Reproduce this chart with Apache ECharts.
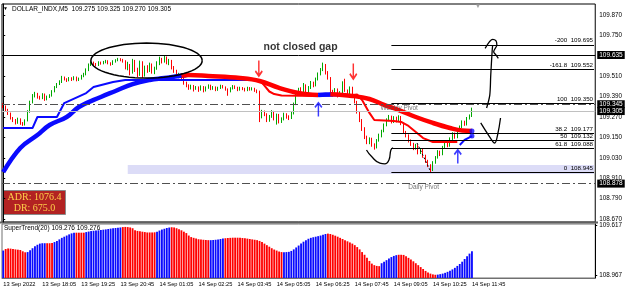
<!DOCTYPE html>
<html>
<head>
<meta charset="utf-8">
<title>DOLLAR_INDX,M5</title>
<script src="https://cdn.jsdelivr.net/npm/echarts@6/dist/echarts.min.js"></script>
<style>
  html, body { margin: 0; padding: 0; background: #fff; }
  #main { width: 625px; height: 291px; }
</style>
</head>
<body>
<div id="main"></div>
<script>
// axis labels
const timeLabels = ['13 Sep 2022', '13 Sep 18:05', '13 Sep 19:25', '13 Sep 20:45', '14 Sep 01:05', '14 Sep 02:25',
  '14 Sep 03:45', '14 Sep 05:05', '14 Sep 06:25', '14 Sep 07:45', '14 Sep 09:05', '14 Sep 10:25', '14 Sep 11:45'];
const labelStep = 16;
const slotCount = 243;
const yTicksMain = [109.870, 109.750, 109.510, 109.390, 109.270, 109.150, 109.030, 108.910, 108.790, 108.670];
const yTicksSub = [108.967, 109.617];

// M5 candles (open = previous close)
const firstOpen = 109.345;
const closes = [
  109.330, 109.312, 109.290, 109.262, 109.250, 109.236, 109.255, 109.232, 109.226, 109.248,
  109.300, 109.355, 109.392, 109.405, 109.385, 109.380, 109.402, 109.372, 109.388, 109.395,
  109.420, 109.445, 109.462, 109.475, 109.500, 109.492, 109.484, 109.498, 109.490, 109.502,
  109.488, 109.495, 109.510, 109.520, 109.545, 109.575, 109.590, 109.580, 109.575, 109.590,
  109.585, 109.592, 109.598, 109.586, 109.580, 109.596, 109.602, 109.610, 109.606, 109.598,
  109.560, 109.575, 109.530, 109.600, 109.545, 109.520, 109.590, 109.515, 109.560, 109.540,
  109.575, 109.532, 109.555, 109.580, 109.610, 109.595, 109.620, 109.590, 109.600, 109.560,
  109.540, 109.510, 109.520, 109.505, 109.470, 109.455, 109.440, 109.452, 109.438, 109.445,
  109.430, 109.448, 109.425, 109.442, 109.455, 109.436, 109.445, 109.430, 109.440, 109.452,
  109.445, 109.432, 109.420, 109.438, 109.450, 109.442, 109.430, 109.440, 109.436, 109.428,
  109.440, 109.432, 109.438, 109.425, 109.420, 109.270, 109.300, 109.285, 109.250, 109.272,
  109.300, 109.262, 109.280, 109.240, 109.255, 109.285, 109.270, 109.262, 109.290, 109.345,
  109.400, 109.430, 109.420, 109.455, 109.410, 109.440, 109.470, 109.455, 109.490, 109.520,
  109.545, 109.575, 109.530, 109.500, 109.420, 109.400, 109.430, 109.395, 109.410, 109.440,
  109.425, 109.405, 109.440, 109.395, 109.360, 109.300, 109.250, 109.200, 109.150, 109.120,
  109.140, 109.105, 109.090, 109.130, 109.160, 109.185, 109.220, 109.250, 109.270, 109.240,
  109.265, 109.245, 109.270, 109.230, 109.180, 109.160, 109.130, 109.110, 109.085, 109.100,
  109.060, 109.075, 109.040, 109.010, 108.985, 108.960, 109.000, 109.030, 109.065, 109.050,
  109.090, 109.120, 109.100, 109.140, 109.170, 109.150, 109.190, 109.210, 109.240, 109.225,
  109.260, 109.275, 109.305
];
const highs = [
  109.352, 109.338, 109.318, 109.296, 109.270, 109.258, 109.266, 109.262, 109.240, 109.256,
  109.310, 109.366, 109.405, 109.418, 109.412, 109.395, 109.410, 109.408, 109.396, 109.404,
  109.428, 109.452, 109.470, 109.486, 109.512, 109.508, 109.498, 109.505, 109.504, 109.510,
  109.508, 109.502, 109.518, 109.530, 109.556, 109.585, 109.598, 109.596, 109.588, 109.598,
  109.596, 109.600, 109.606, 109.604, 109.592, 109.604, 109.610, 109.618, 109.616, 109.612,
  109.604, 109.595, 109.582, 109.612, 109.606, 109.560, 109.602, 109.598, 109.572, 109.575,
  109.590, 109.585, 109.566, 109.598, 109.625, 109.618, 109.632, 109.626, 109.612, 109.606,
  109.570, 109.548, 109.530, 109.528, 109.510, 109.478, 109.462, 109.460, 109.458, 109.452,
  109.450, 109.456, 109.452, 109.450, 109.462, 109.460, 109.452, 109.450, 109.448, 109.460,
  109.458, 109.450, 109.438, 109.445, 109.458, 109.456, 109.448, 109.448, 109.446, 109.442,
  109.448, 109.446, 109.445, 109.442, 109.432, 109.425, 109.312, 109.308, 109.292, 109.282,
  109.310, 109.306, 109.290, 109.288, 109.268, 109.295, 109.292, 109.280, 109.300, 109.355,
  109.410, 109.442, 109.445, 109.470, 109.462, 109.452, 109.482, 109.478, 109.502, 109.532,
  109.558, 109.590, 109.582, 109.540, 109.505, 109.430, 109.440, 109.438, 109.422, 109.480,
  109.495, 109.432, 109.450, 109.448, 109.400, 109.365, 109.305, 109.258, 109.210, 109.160,
  109.150, 109.148, 109.115, 109.140, 109.172, 109.195, 109.232, 109.262, 109.282, 109.278,
  109.275, 109.272, 109.280, 109.276, 109.236, 109.188, 109.168, 109.138, 109.118, 109.112,
  109.108, 109.085, 109.082, 109.048, 109.018, 108.992, 109.010, 109.040, 109.075, 109.072,
  109.100, 109.130, 109.128, 109.150, 109.180, 109.178, 109.200, 109.220, 109.250, 109.248,
  109.270, 109.285, 109.325
];
const lows = [
  109.322, 109.305, 109.282, 109.255, 109.240, 109.226, 109.230, 109.224, 109.218, 109.220,
  109.244, 109.295, 109.350, 109.385, 109.378, 109.372, 109.375, 109.365, 109.368, 109.382,
  109.390, 109.415, 109.440, 109.458, 109.470, 109.485, 109.476, 109.480, 109.482, 109.486,
  109.480, 109.482, 109.490, 109.504, 109.515, 109.540, 109.570, 109.572, 109.568, 109.570,
  109.578, 109.580, 109.586, 109.580, 109.572, 109.576, 109.590, 109.598, 109.598, 109.590,
  109.550, 109.545, 109.515, 109.525, 109.535, 109.505, 109.512, 109.500, 109.508, 109.530,
  109.535, 109.525, 109.522, 109.548, 109.575, 109.585, 109.590, 109.580, 109.575, 109.550,
  109.530, 109.500, 109.498, 109.492, 109.460, 109.445, 109.430, 109.432, 109.420, 109.430,
  109.418, 109.425, 109.415, 109.420, 109.436, 109.428, 109.430, 109.422, 109.424, 109.435,
  109.438, 109.425, 109.395, 109.415, 109.432, 109.435, 109.422, 109.425, 109.428, 109.420,
  109.422, 109.425, 109.426, 109.418, 109.410, 109.240, 109.262, 109.275, 109.240, 109.242,
  109.265, 109.250, 109.225, 109.232, 109.235, 109.250, 109.260, 109.252, 109.258, 109.285,
  109.340, 109.395, 109.412, 109.415, 109.402, 109.405, 109.435, 109.445, 109.450, 109.485,
  109.515, 109.540, 109.520, 109.490, 109.410, 109.390, 109.395, 109.385, 109.388, 109.405,
  109.418, 109.395, 109.400, 109.385, 109.350, 109.290, 109.240, 109.188, 109.140, 109.110,
  109.110, 109.095, 109.078, 109.085, 109.125, 109.150, 109.180, 109.215, 109.245, 109.232,
  109.235, 109.238, 109.240, 109.222, 109.170, 109.150, 109.120, 109.100, 109.075, 109.078,
  109.050, 109.052, 109.030, 109.000, 108.975, 108.945, 108.952, 108.995, 109.025, 109.040,
  109.045, 109.085, 109.092, 109.095, 109.135, 109.142, 109.145, 109.185, 109.205, 109.218,
  109.220, 109.255, 109.270
];

// SuperTrend(20) histogram
const stValues = [
  109.285, 109.305, 109.312, 109.310, 109.305, 109.300, 109.296, 109.292, 109.275, 109.262,
  109.265, 109.290, 109.315, 109.340, 109.360, 109.375, 109.380, 109.380, 109.380, 109.380,
  109.382, 109.395, 109.410, 109.430, 109.450, 109.465, 109.480, 109.495, 109.508, 109.515,
  109.517, 109.517, 109.517, 109.517, 109.525, 109.532, 109.538, 109.542, 109.545, 109.548,
  109.552, 109.556, 109.560, 109.565, 109.570, 109.574, 109.578, 109.582, 109.585, 109.590,
  109.592, 109.590, 109.585, 109.575, 109.550, 109.540, 109.535, 109.530, 109.525, 109.520,
  109.520, 109.520, 109.522, 109.530, 109.545, 109.558, 109.568, 109.578, 109.584, 109.588,
  109.585, 109.575, 109.562, 109.548, 109.530, 109.512, 109.480, 109.460, 109.450, 109.440,
  109.432, 109.428, 109.425, 109.422, 109.420, 109.420, 109.422, 109.425, 109.430, 109.435,
  109.440, 109.445, 109.448, 109.450, 109.452, 109.452, 109.452, 109.450, 109.448, 109.445,
  109.440, 109.435, 109.430, 109.425, 109.420, 109.410, 109.395, 109.375, 109.355, 109.335,
  109.315, 109.298, 109.285, 109.272, 109.265, 109.262, 109.265, 109.268, 109.280, 109.300,
  109.325, 109.350, 109.375, 109.400, 109.420, 109.438, 109.450, 109.458, 109.465, 109.472,
  109.480, 109.490, 109.500, 109.505, 109.500, 109.490, 109.478, 109.465, 109.450, 109.435,
  109.420, 109.405, 109.390, 109.375, 109.355, 109.330, 109.300, 109.265, 109.230, 109.190,
  109.150, 109.115, 109.095, 109.085, 109.082, 109.120, 109.140, 109.160, 109.180, 109.200,
  109.215, 109.225, 109.230, 109.230, 109.228, 109.210, 109.190, 109.170, 109.145, 109.120,
  109.095, 109.070, 109.045, 109.020, 109.000, 108.985, 108.975, 108.970, 108.972, 108.978,
  108.985, 108.995, 109.008, 109.022, 109.040, 109.060, 109.085, 109.110, 109.140, 109.175,
  109.210, 109.245, 109.276
];
// bars inside these runs are "up" (blue), the rest "down" (red)
const stUpRuns = [[0, 0], [10, 17], [21, 29], [34, 48], [63, 68], [85, 90], [115, 132], [155, 161], [178, 192]];

// horizontal levels
const gapLevel = 109.635;
const weeklyPivot = 109.345;
const bidLevel = 109.305;
const dailyPivot = 108.878;
const fibNames = ['-200', '-161.8', '100', '38.2', '50', '61.8', '0'];
const fibPrices = [109.695, 109.552, 109.350, 109.177, 109.132, 109.088, 108.945];
const fibStartBar = 159;
const zoneBars = [51, 242];
const zonePrices = [108.988, 108.935];

// thick trend line [bar, price]
const thickBlueA = [[0, 108.946], [7, 109.088], [14, 109.164], [19, 109.223], [26, 109.270], [31, 109.329], [40, 109.388],
  [46, 109.423], [53, 109.464], [60, 109.488], [66, 109.499], [72, 109.511], [75, 109.515]];
const thickRedA = [[73, 109.513], [76, 109.517], [84, 109.511], [97, 109.499], [105, 109.482], [113, 109.441], [121, 109.411], [129, 109.399]];
const thickBlueB = [[129, 109.399], [132, 109.402], [135, 109.404]];
const thickRedB = [[134, 109.404], [143, 109.394], [150, 109.376], [156, 109.341], [162, 109.311], [169, 109.270],
  [176, 109.235], [183, 109.205], [188, 109.190], [192, 109.188]];

// thin trailing line [bar, price]
const thinBlueA = [[0, 109.205], [12, 109.205], [14, 109.270], [22, 109.270], [25, 109.352], [34, 109.411], [37, 109.446],
  [45, 109.476], [50, 109.488], [105, 109.488]];
const thinRedA = [[105, 109.488], [107, 109.455], [109, 109.420], [111, 109.405], [114, 109.396], [129, 109.394]];
const thinBlueB = [[129, 109.394], [143, 109.400]];
const thinRedB = [[143, 109.400], [145, 109.402], [147, 109.370], [150, 109.294], [152, 109.252], [160, 109.246], [163, 109.241],
  [166, 109.217], [169, 109.182], [172, 109.146], [176, 109.123], [186, 109.123]];
const thinBlueC = [[187, 109.105], [189, 109.135], [192, 109.158]];

// signal arrows [bar, price]
const redArrows = [[104.7, 109.552], [143.4, 109.535]];
const blueArrows = [[129.1, 109.317], [186.2, 109.040]];

// hand drawn marks [bar, price]
const gapEllipse = [58.7, 109.602, 22.8, 0.103];
const dipCurve = [[148.8, 109.076], [150.9, 109.037], [154.3, 108.998], [156.3, 108.994], [158.0, 109.017], [158.8, 109.076], [159.7, 109.089]];
const checkMark = [[195.6, 109.235], [199.3, 109.152], [201.3, 109.117], [202.5, 109.164], [203.7, 109.264]];
const bigArrowStem = [[198.0, 109.323], [199.3, 109.399], [199.7, 109.517], [200.3, 109.664], [200.5, 109.694]];
const bigArrowHead = [[197.4, 109.674], [200.5, 109.727], [201.8, 109.719], [202.2, 109.694], [200.9, 109.654], [201.8, 109.635], [202.8, 109.615]];
const fibDiagonal = [[169.5, 109.117], [174.8, 108.958]];
const gapNote = ['not closed gap', 121.8, 109.682];
const pivotNotes = [['Weekly Pivot', 162.2, 109.323], ['Daily Pivot', 172.2, 108.858]];

const adr = 1076.4;
const dr = 675.0;

const FONT = 'Liberation Sans, DejaVu Sans, sans-serif';
const BLUE = '#0a0aff';
const RED = '#ff0000';

const cats = [];
for (let i = 0; i < slotCount; i++) cats.push(String(i));

const candleData = closes.map((c, i) => [i === 0 ? firstOpen : closes[i - 1], c, lows[i], highs[i]]);
const isUp = i => stUpRuns.some(r => i >= r[0] && i <= r[1]);
const stData = stValues.map((v, i) => ({ value: v, itemStyle: { color: isUp(i) ? BLUE : RED } }));

const lastBar = closes.length - 1;
const lastOpen = closes[lastBar - 1];

const boxLabel = {
  show: true, position: 'end', distance: 2, formatter: p => Number(p.value).toFixed(3),
  backgroundColor: '#000', color: '#fff', fontSize: 6.5, fontFamily: FONT, padding: [1, 2, 0, 2]
};
const dashDot = { color: '#505050', width: 1, type: [8, 3, 2, 3] };

const fibLines = fibPrices.map((v, k) => [
  {
    coord: [fibStartBar, v], lineStyle: { color: '#000', width: 1, type: 'solid' },
    label: {
      show: true, position: 'insideEndTop', distance: 1, formatter: fibNames[k] + '  ' + v.toFixed(3),
      color: '#000', fontSize: 6.2, fontFamily: FONT
    }
  },
  { coord: [slotCount - 1, v] }
]);

function trendLine(data, color, width, smooth) {
  return {
    type: 'line', xAxisIndex: 2, yAxisIndex: 0, data: data, showSymbol: false, smooth: smooth,
    silent: true, z: 4, lineStyle: { color: color, width: width }, animation: false
  };
}
function handLine(data, smooth, dashed) {
  return {
    type: 'line', xAxisIndex: 2, yAxisIndex: 0, data: data, showSymbol: false, smooth: smooth,
    silent: true, z: 8, animation: false,
    lineStyle: { color: '#000', width: dashed ? 1 : 1.3, type: dashed ? [2, 2] : 'solid' }
  };
}

const labelEvery = i => i % labelStep === 0 && i / labelStep < timeLabels.length;

const downArrow = 'path://M4,0L6,0L6,12L9,9L10.5,10.5L5,16L-0.5,10.5L1,9L4,12Z';
const upArrow = 'path://M5,0L10.5,5.5L9,7L6,4L6,16L4,16L4,4L1,7L-0.5,5.5Z';

const option = {
  animation: false,
  backgroundColor: '#fff',
  grid: [
    { left: 2, top: 4, width: 596, height: 218, show: true, borderColor: '#000', borderWidth: 1 },
    { left: 2, top: 224, width: 596, height: 54, show: true, borderColor: '#707070', borderWidth: 1 }
  ],
  xAxis: [
    { type: 'category', gridIndex: 0, data: cats, axisLine: { show: false }, axisTick: { show: false },
      axisLabel: { show: false }, splitLine: { show: false } },
    { type: 'category', gridIndex: 1, data: cats,
      axisLine: { lineStyle: { color: '#707070' } },
      axisTick: { interval: labelEvery, alignWithLabel: true, length: 3, lineStyle: { color: '#000' } },
      axisLabel: { interval: labelEvery, align: 'left', margin: 3, fontSize: 5.7, color: '#000', fontFamily: FONT,
        formatter: (v, idx) => timeLabels[idx / labelStep] || '' },
      splitLine: { show: false } },
    { type: 'value', gridIndex: 0, min: -0.5, max: slotCount - 0.5, show: false }
  ],
  yAxis: [
    { type: 'value', gridIndex: 0, position: 'right', min: 108.652, max: 109.935, splitLine: { show: false },
      axisLine: { show: true, lineStyle: { color: '#000' } },
      axisTick: { show: true, length: 2, customValues: yTicksMain },
      axisLabel: { customValues: yTicksMain, margin: 4, fontSize: 6.3, color: '#000', fontFamily: FONT,
        formatter: v => v.toFixed(3) } },
    { type: 'value', gridIndex: 1, position: 'right', min: 108.928, max: 109.630, splitLine: { show: false },
      axisLine: { show: true, lineStyle: { color: '#000' } },
      axisTick: { show: true, length: 2, customValues: yTicksSub },
      axisLabel: { customValues: yTicksSub, margin: 4, fontSize: 6.3, color: '#000', fontFamily: FONT,
        formatter: v => v.toFixed(3) } }
  ],
  series: [
    {
      type: 'candlestick', xAxisIndex: 0, yAxisIndex: 0, data: candleData, barWidth: 1.2, z: 3,
      itemStyle: { color: '#00a800', color0: RED, borderColor: '#00a800', borderColor0: RED, borderWidth: 1 },
      markArea: {
        silent: true, itemStyle: { color: '#dcdcf7' },
        data: [[{ coord: [zoneBars[0], zonePrices[0]] }, { coord: [zoneBars[1], zonePrices[1]] }]]
      },
      markLine: {
        silent: true, symbol: ['none', 'none'], animation: false, precision: 3,
        data: [
          { yAxis: gapLevel, lineStyle: { color: '#000', width: 1, type: 'solid' }, label: boxLabel },
          { yAxis: weeklyPivot, lineStyle: dashDot, label: boxLabel },
          { yAxis: bidLevel, lineStyle: { color: '#c0c0c0', width: 1, type: 'solid' }, label: boxLabel },
          { yAxis: dailyPivot, lineStyle: dashDot, label: boxLabel }
        ].concat(fibLines)
      }
    },
    trendLine(thinBlueA, BLUE, 2, false),
    trendLine(thinRedA, RED, 2, false),
    trendLine(thinBlueB, BLUE, 2, false),
    trendLine(thinRedB, RED, 2, false),
    trendLine(thinBlueC, BLUE, 2, false),
    trendLine(thickBlueA, BLUE, 4.5, 0.4),
    trendLine(thickRedA, RED, 4.5, 0.4),
    trendLine(thickBlueB, BLUE, 4.5, 0.4),
    trendLine(thickRedB, RED, 4.5, 0.4),
    {
      type: 'scatter', xAxisIndex: 2, yAxisIndex: 0, z: 6, silent: true,
      data: [thickRedB[thickRedB.length - 1], thinBlueC[thinBlueC.length - 1]],
      symbolSize: 5, itemStyle: { color: BLUE }
    },
    {
      type: 'scatter', xAxisIndex: 2, yAxisIndex: 0, z: 6, silent: true, data: redArrows,
      symbol: downArrow, symbolSize: [8, 17], itemStyle: { color: RED }
    },
    {
      type: 'scatter', xAxisIndex: 2, yAxisIndex: 0, z: 6, silent: true, data: blueArrows,
      symbol: upArrow, symbolSize: [8, 15], itemStyle: { color: BLUE }
    },
    {
      type: 'custom', xAxisIndex: 2, yAxisIndex: 0, z: 8, silent: true, clip: false,
      data: [gapEllipse], encode: { x: 0, y: 1 },
      renderItem: function (params, api) {
        const c = api.coord([api.value(0), api.value(1)]);
        const s = api.size([api.value(2), api.value(3)]);
        const pts = [];
        for (let k = 0; k <= 60; k++) {
          const a = (k / 60) * Math.PI * 2;
          pts.push([c[0] + s[0] * Math.cos(a), c[1] + s[1] * Math.sin(a)]);
        }
        return { type: 'polyline', shape: { points: pts }, style: { stroke: '#000', fill: null, lineWidth: 1.5 } };
      }
    },
    handLine(dipCurve, 0.5, false),
    handLine(checkMark, 0.4, false),
    handLine(bigArrowStem, 0.3, false),
    handLine(bigArrowHead, 0.3, false),
    handLine(fibDiagonal, false, true),
    {
      type: 'scatter', xAxisIndex: 2, yAxisIndex: 0, z: 9, silent: true, symbolSize: 0,
      data: [{ name: gapNote[0], value: [gapNote[1], gapNote[2]] }],
      label: { show: true, position: 'inside', formatter: '{b}', fontSize: 10.5, fontWeight: 'bold', color: '#000', fontFamily: FONT }
    },
    {
      type: 'scatter', xAxisIndex: 2, yAxisIndex: 0, z: 9, silent: true, symbolSize: 0,
      data: pivotNotes.map(n => ({ name: n[0], value: [n[1], n[2]] })),
      label: { show: true, position: 'inside', formatter: '{b}', fontSize: 6.5, color: '#555', fontFamily: FONT }
    },
    {
      type: 'bar', xAxisIndex: 1, yAxisIndex: 1, data: stData, barCategoryGap: '25%', clip: true, silent: true
    }
  ],
  graphic: [
    { type: 'text', left: 3, top: 6, style: { text: '\u25BC', fontSize: 5, fill: '#000', fontFamily: FONT } },
    { type: 'text', left: 12, top: 6, style: {
      text: 'DOLLAR_INDX,M5  ' + [lastOpen, highs[lastBar], lows[lastBar], closes[lastBar]].map(v => v.toFixed(3)).join(' '),
      fontSize: 6.5, fill: '#000', fontFamily: FONT } },
    { type: 'text', left: 475, top: 3, style: { text: '\u25BC', fontSize: 6, fill: '#a0a0a0', fontFamily: FONT } },
    { type: 'line', shape: { x1: 0, y1: 222.5, x2: 598, y2: 222.5 }, style: { stroke: '#606060', lineWidth: 2 } },
    { type: 'text', left: 4, top: 225, style: {
      text: 'SuperTrend(20) ' + stValues[lastBar].toFixed(3) + ' ' + stValues[lastBar].toFixed(3),
      fontSize: 6.5, fill: '#000', fontFamily: FONT } },
    { type: 'group', left: 3, top: 190, children: [
      { type: 'rect', shape: { x: 0, y: 0, width: 62, height: 24 }, style: { fill: '#b22222', stroke: '#8a8a8a', lineWidth: 1 } },
      { type: 'text', x: 31, y: 2, style: { text: 'ADR: ' + adr.toFixed(1), textAlign: 'center', fontSize: 10,
        fill: '#ffd04a', fontFamily: 'Liberation Serif, DejaVu Serif, serif' } },
      { type: 'text', x: 31, y: 13, style: { text: 'DR: ' + dr.toFixed(1), textAlign: 'center', fontSize: 10,
        fill: '#ffd04a', fontFamily: 'Liberation Serif, DejaVu Serif, serif' } }
    ] }
  ]
};

const myChart = echarts.init(document.getElementById('main'), null, { renderer: 'canvas' });
myChart.setOption(option);
</script>
</body>
</html>
